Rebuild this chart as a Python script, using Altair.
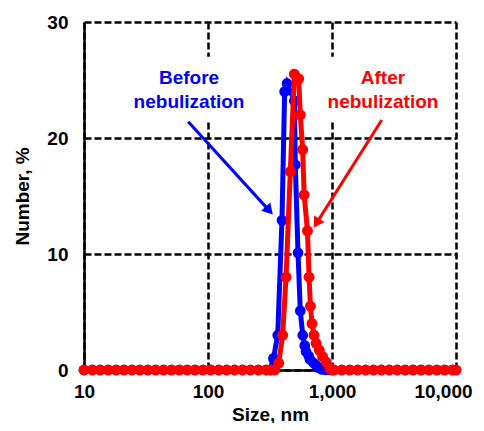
import altair as alt
import pandas as pd

FONT = "Liberation Sans"

# ---- data ----
base_left = [10.0, 11.7, 13.5, 15.7, 18.2, 21.0, 24.4, 28.2, 32.7, 37.8, 43.8, 50.7,
             58.8, 68.1, 78.8, 91.3, 105.7, 122.4, 141.8, 164.2, 190.1, 220.2, 255.0, 295.3]
base_right = [1037, 1201, 1391, 1611, 1865, 2160, 2502, 2897, 3355, 3886, 4500,
              5212, 6036, 6990, 8095, 9375, 10000]

before_size = [316, 337, 365, 395, 415, 434, 497, 506, 532, 555, 581, 603, 617, 649,
               665, 712, 743, 781, 830, 895, 960]
before_value = [0, 1.0, 3.0, 12.9, 24.0, 24.7, 23.2, 17.7, 10.1, 5.1, 3.0, 2.1, 1.6, 1.2,
                0.9, 0.6, 0.4, 0.2, 0.05, 0, 0]

after_size = [320, 345, 372, 400, 426, 461, 497, 539, 555, 580, 596, 634, 653, 670, 690,
              716, 745, 790, 840, 900, 960, 1000]
after_value = [0, 0, 0.6, 3.0, 8.0, 17.1, 25.5, 25.1, 22.0, 19.0, 15.1, 12.0, 8.0, 5.5,
               4.0, 3.0, 2.3, 1.7, 1.15, 0.66, 0.15, 0]

x_ticks = [10, 100, 1000, 10000]
y_ticks = [0, 10, 20, 30]

# annotations (data coordinates)
label_text = ["Before", "nebulization", "After", "nebulization"]
label_size = [70.3, 70.3, 2577, 2577]
label_value = [25.2, 23.1, 25.2, 23.1]
label_color = ["#0000FF", "#0000FF", "#FF0000", "#FF0000"]

box_size = [21.4, 800]
box_size2 = [218, 8000]
box_value = [21.5, 21.5]
box_value2 = [27.0, 27.0]

arrow_size = [69.3, 2518]
arrow_value = [21.4, 21.55]
head_size = [312, 750]
head_value = [13.74, 12.66]
head_angle = [138, 212]
arrow_color = ["#0000FF", "#FF0000"]

# ---- tables ----
before_df = pd.DataFrame({"size": base_left + before_size + base_right,
                          "value": [0] * len(base_left) + before_value + [0] * len(base_right)})
after_df = pd.DataFrame({"size": base_left + after_size + base_right,
                         "value": [0] * len(base_left) + after_value + [0] * len(base_right)})
label_df = pd.DataFrame({"size": label_size, "value": label_value,
                         "text": label_text, "color": label_color})
box_df = pd.DataFrame({"size": box_size, "size2": box_size2,
                       "value": box_value, "value2": box_value2})
arrow_df = pd.DataFrame({"size": arrow_size, "value": arrow_value,
                         "size2": head_size, "value2": head_value,
                         "angle": head_angle, "color": arrow_color})

x_scale = alt.Scale(type="log", domain=[10, 10000])
y_scale = alt.Scale(domain=[0, 30])

x_axis = alt.Axis(values=x_ticks, format=",d", grid=True, gridColor="black",
                  gridDash=[7, 3], gridWidth=2.5, domainColor="black", domainWidth=2.5,
                  ticks=False, tickSize=0, labelFont=FONT, labelFontSize=19,
                  labelFontWeight="bold", labelColor="black", labelPadding=12,
                  labelFlush=False,
                  labelOffset={"condition": {"test": "datum.value == 10000", "value": -13},
                               "value": 0},
                  title="Size, nm", titleFont=FONT, titleFontSize=19,
                  titleFontWeight="bold", titleColor="black", titlePadding=4)
y_axis = alt.Axis(values=y_ticks, format="d", grid=True, gridColor="black",
                  gridDash=[7, 3], gridWidth=2.5, domainColor="black", domainWidth=2.5,
                  ticks=False, tickSize=0, labelFont=FONT, labelFontSize=19,
                  labelFontWeight="bold", labelColor="black", labelPadding=16,
                  title="Number, %", titleFont=FONT, titleFontSize=19,
                  titleFontWeight="bold", titleColor="black", titlePadding=14)


def X():
    return alt.X("size:Q", scale=x_scale, axis=x_axis)


def Y():
    return alt.Y("value:Q", scale=y_scale, axis=y_axis)


boxes = alt.Chart(box_df).mark_rect(color="white").encode(
    x=X(), x2="size2:Q", y=Y(), y2="value2:Q")

blue = alt.Chart(before_df).mark_line(
    color="#0000FF", strokeWidth=5,
    point=alt.OverlayMarkDef(color="#0000FF", filled=True, size=115, opacity=1)
).encode(x=X(), y=Y())

red = alt.Chart(after_df).mark_line(
    color="#FF0000", strokeWidth=5,
    point=alt.OverlayMarkDef(color="#FF0000", filled=True, size=120, opacity=1)
).encode(x=X(), y=Y())

arrows = alt.Chart(arrow_df).mark_rule(strokeWidth=3).encode(
    x=X(), y=Y(), x2="size2:Q", y2="value2:Q",
    color=alt.Color("color:N", scale=None))

heads = alt.Chart(arrow_df).mark_point(shape="triangle-up", filled=True, size=150,
                                       opacity=1).encode(
    x=alt.X("size2:Q", scale=x_scale, axis=x_axis),
    y=alt.Y("value2:Q", scale=y_scale, axis=y_axis),
    angle=alt.Angle("angle:Q", scale=None),
    color=alt.Color("color:N", scale=None))

texts = alt.Chart(label_df).mark_text(font=FONT, fontSize=19, fontWeight="bold",
                                      align="center", baseline="middle").encode(
    x=X(), y=Y(), text="text:N", color=alt.Color("color:N", scale=None))

chart = alt.layer(boxes, blue, red, arrows, heads, texts).properties(
    width=372, height=348,
    padding={"left": 76, "top": 14, "right": 20, "bottom": 53},
    autosize=alt.AutoSizeParams(type="none"),
).configure_view(strokeWidth=0)

chart.save("out.html", embed_options={"renderer": "svg", "actions": False})
